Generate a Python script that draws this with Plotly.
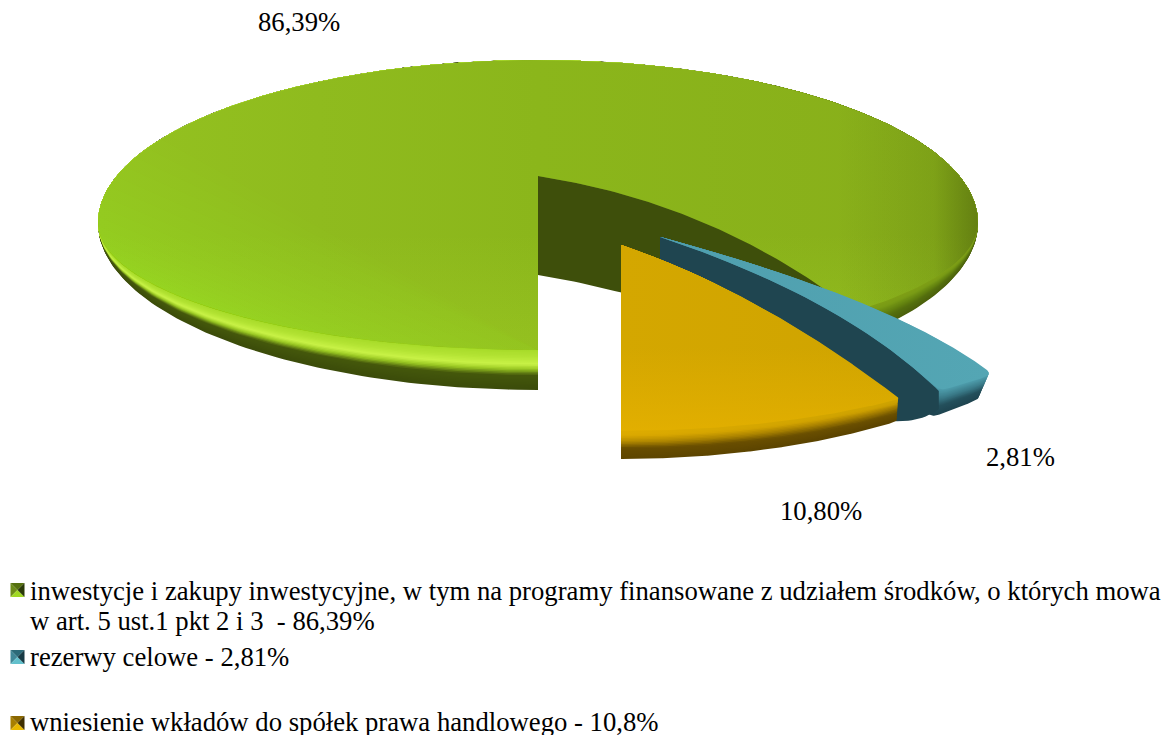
import numpy as np
import plotly.graph_objects as go

# ---------- data ----------
shares = [86.39, 2.81, 10.80]
data_labels = ["86,39%", "2,81%", "10,80%"]
legend_lines = [
    "inwestycje i zakupy inwestycyjne, w tym na programy finansowane z udziałem środków, o których mowa",
    "w art. 5 ust.1 pkt 2 i 3\u00a0\u00a0- 86,39%",
    "rezerwy celowe - 2,81%",
    "wniesienie wkładów do spółek prawa handlowego - 10,8%",
]

# ---------- style / projection ----------
CX, CY = 538.0, 176.0
SERIF = "Liberation Serif"
FONT_SIZE = 26.7
geom = {
    "green": dict(A=431.0, B=139.2, K=0.2, pivot=223.0, span=127.0, depth=40.0, pinch=0.0, smooth=0,
                  remap=dict(cy0=205.0, ry0=145.0, rx=440.0, cy=223.0, up=163.0, down=127.0)),
    "teal": dict(A=440.0, B=142.9, K=0.2318, pivot=211.0, span=151.0, depth=34.0, pinch=0.0009, smooth=17, remap=None),
    "gold": dict(A=440.0, B=142.9, K=0.2318, pivot=211.0, span=151.0, depth=28.0, pinch=0.0002, smooth=7, remap=None),
}
sweep_scale = {"green": 1.03, "teal": 0.76, "gold": 0.78}
offsets = {"green": (0, 0), "teal": (122, 61), "gold": (83, 69)}
bulge_start = {"green": (20, -40), "teal": (46, -15), "gold": (0, 0)}
bulge_end = {"green": (0, 0), "teal": (74, -4), "gold": (0, -30)}
top_scale = {
    "green": [[0, "#94c220"], [0.25, "#8fbb1e"], [0.5, "#8bb61b"], [1, "#88ae1a"]],
    "teal": [[0, "#4f9fae"], [1, "#54a6b4"]],
    "gold": [[0, "#d4a700"], [1, "#cfa400"]],
}
# the y axis runs downwards, so position 0 of a vertical gradient is the lower edge on the page
overlays = {
    "green": [
        dict(type="vertical", colorscale=[[0, "rgba(185,235,50,0.2)"], [0.4, "rgba(185,235,50,0)"], [1, "rgba(185,235,50,0)"]]),
        dict(type="horizontal", colorscale=[[0, "rgba(70,90,10,0)"], [0.84, "rgba(70,90,10,0)"], [0.95, "rgba(70,90,10,0.16)"], [1, "rgba(70,90,10,0.55)"]]),
    ],
    "teal": [],
    "gold": [
        dict(type="vertical", colorscale=[[0, "rgba(235,180,0,0.6)"], [0.45, "rgba(235,180,0,0)"], [1, "rgba(235,180,0,0)"]]),
    ],
}
rim_stops = {
    "green": [(40, "#3c4c0a", "#4c600c"), (26, "#45580c", "#55700e"), (20, "#9ac822", "#61800f"),
              (15, "#c9f247", "#6a8b12"), (8, "#b4e434", "#7a9c15"), (0, "#a6da28", "#7f9f16")],
    "teal": [(34, "#1f4550", "#1f4550"), (22, "#24505c", "#24505c"), (12, "#3a7a88", "#3a7a88"), (0, "#4f9fae", "#4f9fae")],
    "gold": [(28, "#5e4600", "#5a4300"), (18, "#684d00", "#6b5000"), (11, "#b88e00", "#a07a00"),
             (5, "#dcaa00", "#cca000"), (0, "#deac00", "#cfa400")],
}
wall_color = {"green": "#3e4f0b", "teal": "#1f4550"}
icon_colors = {
    "green": ("#6d8c18", "#55700f", "#a0d824", "#2b3a08"),
    "teal": ("#3f8797", "#2b6a78", "#62c0cc", "#173a44"),
    "gold": ("#a87f00", "#8a6700", "#e8b800", "#3f2f00"),
}


def project(phi, g):
    """phi: degrees from the bottom of the pie, counter-clockwise on screen."""
    t = np.radians(np.asarray(phi, dtype=float) - 90)
    u, v = np.cos(t), np.sin(t)
    d = 1 + g["K"] * v
    x, y = CX + g["A"] * u / d, CY - g["B"] * v / d
    r = g["remap"]
    if r:
        a = np.arctan2(-(y - r["cy0"]) / r["ry0"], (x - CX) / r["rx"])
        x = CX + r["rx"] * np.cos(a)
        y = r["cy"] - np.where(np.sin(a) > 0, r["up"], r["down"]) * np.sin(a)
    return x, y


def edge(phi, bulge, g):
    ex, ey = project(phi, g)
    cx = (CX + ex) / 2 + bulge[0]
    cy = (CY + ey) / 2 + bulge[1]
    t = np.linspace(0, 1, 60)
    return (1 - t) ** 2 * CX + 2 * t * (1 - t) * cx + t**2 * ex, (1 - t) ** 2 * CY + 2 * t * (1 - t) * cy + t**2 * ey


def rounded(px, py, win):
    """Round the outer tip of a slice outline; apex and vertical edge stay sharp."""
    if not win:
        return px, py
    s = np.concatenate([[0], np.cumsum(np.hypot(np.diff(px), np.diff(py)))])
    keep = np.concatenate([[True], np.diff(s) > 0])
    grid = np.arange(0, s[-1], 1.0)
    x = np.interp(grid, s[keep], px[keep])
    y = np.interp(grid, s[keep], py[keep])
    kernel = np.ones(win) / win
    pad = win
    xs = np.convolve(np.pad(x, pad, mode="edge"), kernel, mode="same")[pad:-pad]
    ys = np.convolve(np.pad(y, pad, mode="edge"), kernel, mode="same")[pad:-pad]
    w = np.clip(np.abs(x - CX) / 120.0, 0, 1)
    return x + (xs - x) * w, y + (ys - y) * w


def hex2rgb(c):
    return np.array([int(c[i:i + 2], 16) for i in (1, 3, 5)], dtype=float)


def mix(stops, d):
    ds = [s[0] for s in stops][::-1]
    out = []
    for idx in (1, 2):
        cs = np.array([hex2rgb(s[idx]) for s in stops][::-1])
        rgb = [np.interp(d, ds, cs[:, i]) for i in range(3)]
        out.append("rgb(%d,%d,%d)" % tuple(rgb))
    return out


fig = go.Figure()


def add_poly(x, y, **kw):
    fig.add_trace(go.Scatter(x=x, y=y, mode="lines", fill="toself", line=dict(width=0),
                             hoverinfo="skip", showlegend=False, **kw))


def sheen():
    """Soft light on the lower left of the large slice: nested faint lenses."""
    r = geom["green"]["remap"]
    for w in np.linspace(66, 12, 16):
        a = np.radians(np.linspace(215 - w, min(215 + w, 270), 120))
        add_poly(CX + r["rx"] * np.cos(a), r["cy"] - np.where(np.sin(a) > 0, r["up"], r["down"]) * np.sin(a),
                 fillcolor="rgba(190,240,50,0.022)")


def draw_slice(name, phi0, phi1):
    g = geom[name]
    ox, oy = offsets[name]
    sx, sy = edge(phi0, bulge_start[name], g)
    ex, ey = edge(phi1, bulge_end[name], g)
    ax, ay = project(np.linspace(phi0, phi1, 300), g)
    px = np.concatenate([sx, ax, ex[::-1]])
    py = np.concatenate([sy, ay, ey[::-1]])
    px, py = rounded(px, py, g["smooth"])
    t = np.linspace(0, 1, len(sx))
    h = 99 * (1 - t**4) + 18 * t**4
    wx = np.concatenate([sx, sx[::-1]]) + ox
    wy = np.concatenate([sy, (sy + h)[::-1]]) + oy
    for d in np.arange(g["depth"], 0, -1.5):
        left, right = mix(rim_stops[name], d)
        scale = [[0, left], [0.55, left], [0.8, right], [1, right]] if name == "green" else [[0, left], [1, right]]
        stretched = py + d * np.clip(py - g["pivot"], 0, None) / g["span"]
        pinched = CX + (px - CX) * (1 - d * g["pinch"])
        add_poly(pinched + ox, stretched + oy, fillgradient=dict(type="horizontal", colorscale=scale))
    if name == "teal":
        add_poly(wx, wy, fillcolor=wall_color[name])
    add_poly(px + ox, py + oy, fillgradient=dict(type="horizontal", colorscale=top_scale[name]))
    for ov in overlays[name]:
        add_poly(px + ox, py + oy, fillgradient=ov)
    if name == "green":
        sheen()
        add_poly(wx, wy, fillcolor=wall_color[name])


raw = {"gold": shares[2] * 3.6 * sweep_scale["gold"],
       "teal": shares[1] * 3.6 * sweep_scale["teal"],
       "green": shares[0] * 3.6 * sweep_scale["green"]}
norm = 360.0 / sum(raw.values())
p1 = raw["gold"] * norm
p2 = p1 + raw["teal"] * norm
draw_slice("green", p2, p2 + raw["green"] * norm)
draw_slice("teal", p1, p2)
draw_slice("gold", 0, p1)


def icon(name, cx, cy, s=7.0):
    l, t, b, r = icon_colors[name]
    tris = [([cx - s, cx, cx - s], [cy - s, cy, cy + s], l),
            ([cx - s, cx, cx + s], [cy - s, cy, cy - s], t),
            ([cx - s, cx, cx + s], [cy + s, cy, cy + s], b),
            ([cx + s, cx, cx + s], [cy - s, cy, cy + s], r)]
    for x, y, c in tris:
        add_poly(x, y, fillcolor=c)


icon("green", 17.5, 590)
icon("teal", 17.5, 657)
icon("gold", 17.5, 723)

annotations = []
for txt, x, y in zip(data_labels, [299, 1020, 821], [22, 457, 511]):
    annotations.append(dict(x=x, y=y, text=txt, showarrow=False, xanchor="center", yanchor="middle",
                            font=dict(family=SERIF, size=FONT_SIZE, color="#000000")))
for txt, y in zip(legend_lines, [591, 621, 657, 722]):
    annotations.append(dict(x=28, y=y, text=txt, showarrow=False, xanchor="left", yanchor="middle",
                            font=dict(family=SERIF, size=FONT_SIZE, color="#000000")))

# The page keeps an 8 px body margin, so the plot area starts at pixel (8, 8).
fig.update_layout(
    width=1161, height=727, margin=dict(l=0, r=0, t=0, b=0),
    paper_bgcolor="#ffffff", plot_bgcolor="#ffffff", showlegend=False,
    xaxis=dict(range=[8, 1169], visible=False, fixedrange=True),
    yaxis=dict(range=[735, 8], visible=False, fixedrange=True),
    annotations=annotations,
)
fig.write_html("out.html", config={"displayModeBar": False})
